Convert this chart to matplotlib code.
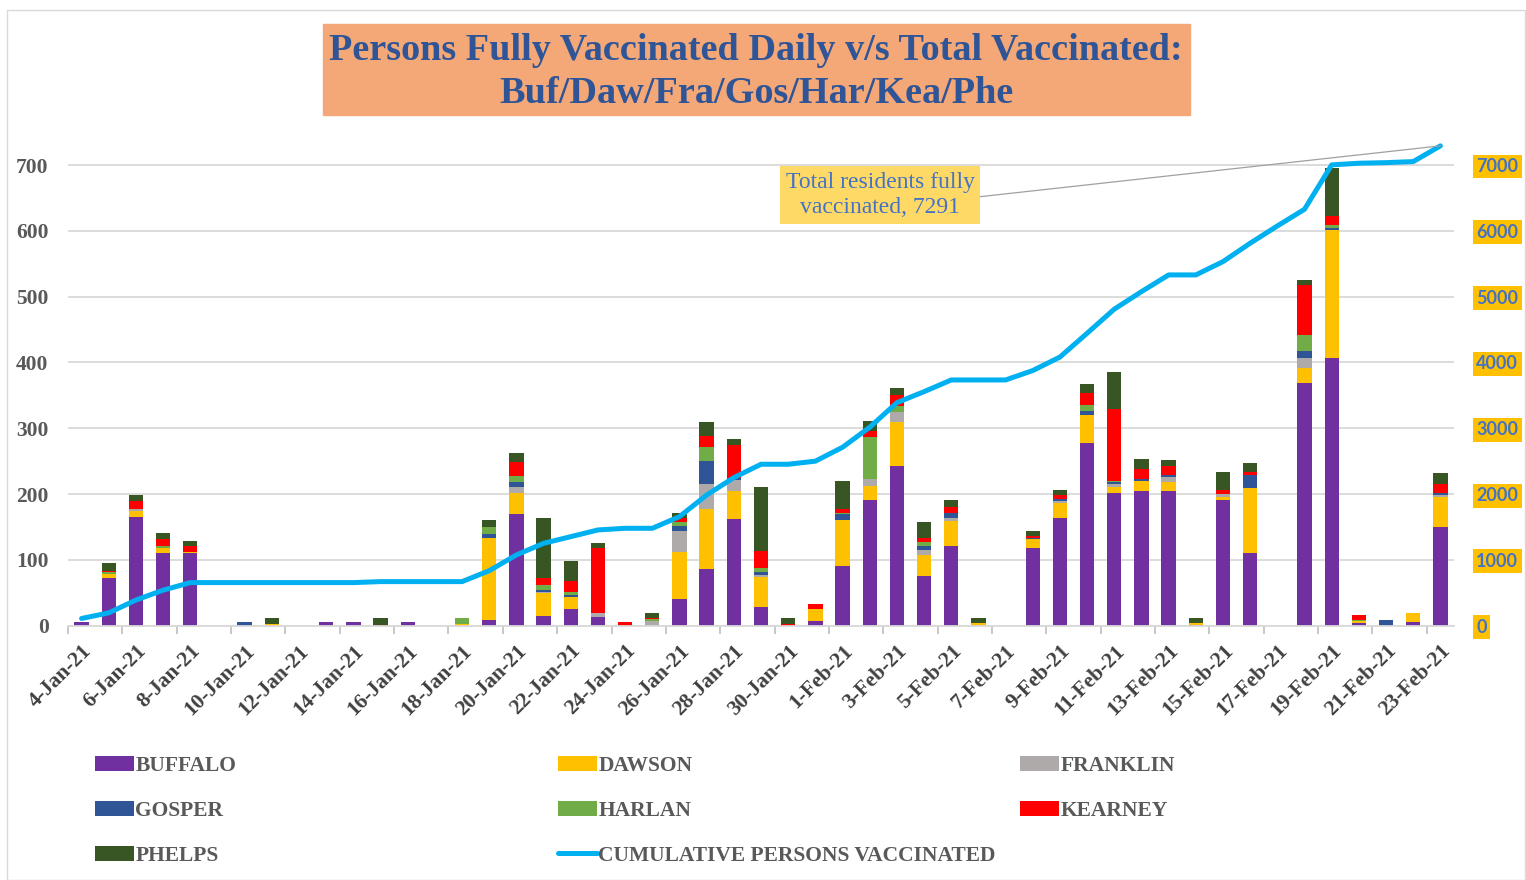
import matplotlib.pyplot as plt
from matplotlib.patches import Patch, Rectangle
from matplotlib.lines import Line2D
import matplotlib.transforms as mtransforms
import numpy as np
import pandas as pd

# Daily persons fully vaccinated by county, 4-Jan-21 .. 23-Feb-21
dates = pd.date_range('2021-01-04', '2021-02-23')
labels = [f"{d.day}-{d.strftime('%b')}-21" for d in dates]

buffalo = [6, 72, 165, 111, 110, 0, 0, 0, 0, 5,
           5, 0, 5, 0, 0, 8, 169, 15, 26, 13,
           0, 0, 40, 86, 162, 29, 0, 7, 91, 191,
           243, 75, 121, 0, 0, 118, 164, 277, 202, 205,
           205, 1, 191, 110, 0, 369, 407, 4, 0, 5,
           150]
dawson = [0, 6, 10, 7, 2, 0, 0, 3, 0, 0,
          0, 0, 0, 0, 3, 126, 32, 34, 17, 0,
          0, 0, 72, 92, 43, 45, 0, 18, 70, 22,
          67, 32, 38, 4, 0, 13, 23, 43, 9, 15,
          13, 3, 4, 99, 0, 22, 194, 3, 0, 15,
          45]
franklin = [0, 1, 2, 0, 0, 0, 0, 0, 0, 0,
            0, 0, 0, 0, 0, 0, 9, 2, 0, 7,
            0, 7, 32, 37, 17, 3, 0, 0, 0, 10,
            15, 8, 5, 0, 0, 0, 3, 0, 5, 0,
            8, 0, 5, 0, 0, 15, 0, 0, 0, 0,
            3]
gosper = [0, 0, 0, 0, 0, 0, 5, 0, 0, 0,
          0, 0, 0, 0, 0, 5, 8, 3, 3, 0,
          0, 0, 8, 35, 2, 5, 0, 0, 9, 0,
          0, 6, 7, 0, 0, 3, 2, 6, 2, 3,
          3, 0, 0, 20, 0, 12, 3, 0, 8, 0,
          3]
harlan = [0, 2, 0, 3, 0, 0, 0, 0, 0, 0,
          0, 0, 0, 0, 9, 11, 10, 8, 5, 0,
          0, 3, 6, 22, 0, 5, 0, 0, 2, 64,
          9, 6, 0, 0, 0, 0, 0, 10, 2, 0,
          0, 0, 0, 0, 0, 24, 5, 2, 0, 0,
          1]
kearney = [0, 2, 13, 11, 9, 0, 0, 0, 0, 0,
           0, 1, 0, 0, 0, 0, 20, 11, 17, 98,
           6, 2, 5, 16, 51, 26, 3, 8, 5, 9,
           16, 7, 10, 0, 0, 3, 7, 17, 109, 15,
           13, 0, 6, 5, 0, 76, 14, 8, 0, 0,
           13]
phelps = [0, 13, 9, 9, 7, 0, 0, 8, 0, 0,
          0, 10, 0, 0, 0, 10, 15, 91, 31, 7,
          0, 8, 8, 21, 8, 98, 9, 0, 43, 15,
          11, 24, 10, 8, 0, 7, 7, 15, 56, 15,
          10, 8, 27, 13, 0, 7, 72, 0, 0, 0,
          17]
cumulative = [110, 195, 390, 540, 655, 655, 655, 655, 655, 655,
              655, 670, 670, 670, 670, 836, 1075, 1252, 1353, 1455,
              1480, 1480, 1657, 1986, 2250, 2453, 2453, 2500, 2711, 3015,
              3389, 3556, 3734, 3734, 3734, 3877, 4082, 4444, 4810, 5076,
              5330, 5330, 5532, 5812, 6074, 6328, 7002, 7027, 7036, 7052,
              7291]

series = [('BUFFALO', buffalo, '#7030A0'),
          ('DAWSON', dawson, '#FFC000'),
          ('FRANKLIN', franklin, '#AEAAAA'),
          ('GOSPER', gosper, '#2F5597'),
          ('HARLAN', harlan, '#70AD47'),
          ('KEARNEY', kearney, '#FF0000'),
          ('PHELPS', phelps, '#375623')]

W, H = 1526, 880
serif = 'Liberation Serif'
fig = plt.figure(figsize=(W / 100, H / 100), dpi=100)
fig.patches.append(Rectangle((7 / W, 0), (W - 8) / W, (H - 10) / H, transform=fig.transFigure,
                             fill=False, ec='#d9d9d9', lw=1))

ax = fig.add_axes([68 / W, 1 - 625.7 / H, (1454 - 68) / W, (625.7 - 140) / H])
x = np.arange(len(labels))
bottom = np.zeros(len(labels))
for name, vals, col in series:
    ax.bar(x, vals, 0.53, bottom=bottom, color=col, zorder=2)
    bottom += np.array(vals)

ax.set_xlim(-0.5, len(labels) - 0.5)
ax.set_ylim(0, 738)
ax.set_yticks(range(0, 701, 100))
ax.grid(axis='y', color='#d9d9d9', lw=1.3, zorder=0)
ax.set_axisbelow(True)
for s in ['left', 'right', 'top']:
    ax.spines[s].set_visible(False)
ax.spines['bottom'].set_color('#d9d9d9')
ax.spines['bottom'].set_linewidth(1.3)
ax.tick_params(axis='y', length=0, pad=14, labelsize=15.5, labelcolor='#595959')
for t in ax.get_yticklabels():
    t.set_fontfamily(serif)
    t.set_fontweight('bold')

ax.set_xticks(x[::2])
ax.set_xticklabels(labels[::2], rotation=45, ha='right', va='top', rotation_mode='anchor',
                   fontsize=15.5, fontfamily=serif, fontweight='bold', color='#404040')
shift = mtransforms.ScaledTranslation(7 / 100, 0, fig.dpi_scale_trans)
for t in ax.get_xticklabels():
    t.set_transform(t.get_transform() + shift)
ax.set_xticks(np.arange(-0.5, len(labels), 2), minor=True)
ax.tick_params(axis='x', which='major', length=0, pad=11)
ax.tick_params(axis='x', which='minor', length=6, color='#bfbfbf', width=1.2)

# cumulative line on secondary axis
ax2 = ax.twinx()
ax2.plot(x, cumulative, color='#00B0F0', lw=3.6, solid_joinstyle='round',
         solid_capstyle='round', zorder=3)
ax2.set_ylim(0, 7380)
ax2.set_yticks(range(0, 7001, 1000))
for s in ['left', 'right', 'top', 'bottom']:
    ax2.spines[s].set_visible(False)
ax2.tick_params(axis='y', length=0, pad=16, labelsize=13, labelcolor='#4472C4')
for t in ax2.get_yticklabels():
    t.set_fontfamily('Lato')
    t.set_fontweight('bold')
    t.set_bbox(dict(facecolor='#FFC000', edgecolor='none', pad=2.5))

ax2.annotate('Total residents fully\nvaccinated, 7291', xy=(x[-1], cumulative[-1]),
             xytext=(880, H - 195), textcoords='figure pixels', ha='center', va='center',
             fontsize=17, fontfamily=serif, color='#4472C4', linespacing=1.25,
             bbox=dict(facecolor='#FFD966', edgecolor='none', pad=4),
             arrowprops=dict(arrowstyle='-', color='#a0a0a0', lw=0.9, relpos=(1, 0.45),
                             shrinkA=0, shrinkB=0))

# title box
fig.patches.append(Rectangle((323 / W, 1 - 115 / H), (1190 - 323) / W, 91 / H,
                             transform=fig.transFigure, color='#F4A877', zorder=0))
fig.text(756 / W, 1 - 72 / H, 'Persons Fully Vaccinated Daily v/s Total Vaccinated:\nBuf/Daw/Fra/Gos/Har/Kea/Phe',
         ha='center', va='center', fontsize=27.5, fontfamily=serif, fontweight='bold',
         color='#2F5597', linespacing=1.3)

# legend in three columns
handles = {name: Patch(facecolor=col) for name, vals, col in series}
handles['CUMULATIVE PERSONS VACCINATED'] = Line2D([], [], color='#00B0F0', lw=3.6,
                                                  solid_capstyle='round')
columns = [(95, ['BUFFALO', 'GOSPER', 'PHELPS']),
           (558, ['DAWSON', 'HARLAN', 'CUMULATIVE PERSONS VACCINATED']),
           (1020, ['FRANKLIN', 'KEARNEY'])]
for xpos, names in columns:
    fig.legend([handles[n] for n in names], names, loc='upper left',
               bbox_to_anchor=(xpos / W, 1 - 756 / H), frameon=False, borderpad=0,
               borderaxespad=0, handlelength=1.8, handleheight=0.7, handletextpad=0.08,
               labelspacing=1.15, prop=dict(family=serif, weight='bold', size=15.5),
               labelcolor='#595959')

fig.savefig('out.png', dpi=100)
